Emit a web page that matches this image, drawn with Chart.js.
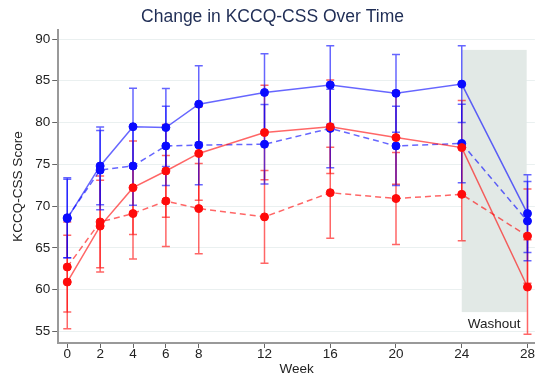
<!DOCTYPE html>
<html>
<head>
<meta charset="utf-8">
<script src="https://cdn.jsdelivr.net/npm/chart.js@4/dist/chart.umd.min.js"></script>
<style>
  html, body { margin: 0; padding: 0; background: #fff; }
  #wrap { width: 535px; height: 376px; }
</style>
</head>
<body>
<div id="wrap"><canvas id="kccq"></canvas></div>
<script>
// weeks and tick labels
const weeks = [0, 2, 4, 6, 8, 12, 16, 20, 24, 28];
const xTicks = [0, 2, 4, 6, 8, 12, 16, 20, 24, 28];
const yTicks = [55, 60, 65, 70, 75, 80, 85, 90];

// mean scores and error half-widths
const blueSolid = [68.5, 74.8, 79.5, 79.4, 82.2, 83.6, 84.5, 83.5, 84.6, 69.1];
const blueSolidErr = [4.7, 4.65, 4.6, 4.67, 4.6, 4.65, 4.7, 4.65, 4.6, 4.65];
const blueDashed = [68.6, 74.3, 74.8, 77.2, 77.3, 77.4, 79.3, 77.2, 77.5, 68.2];
const blueDashedErr = [4.8, 4.75, 4.7, 4.75, 4.75, 4.75, 4.7, 4.75, 4.7, 4.75];
const redSolid = [60.9, 67.6, 72.2, 74.2, 76.3, 78.8, 79.5, 78.2, 77.0, 60.3];
const redSolidErr = [5.6, 5.5, 5.6, 5.55, 5.6, 5.65, 5.6, 5.6, 5.65, 5.65];
const redDashed = [62.7, 68.1, 69.1, 70.6, 69.7, 68.7, 71.6, 70.9, 71.4, 66.4];
const redDashedErr = [5.4, 5.5, 5.45, 5.45, 5.4, 5.55, 5.45, 5.5, 5.55, 5.65];

// washout shaded period
const washoutWeeks = [24, 27.95];
const washoutScores = [57.3, 88.7];

const BLUE = 'rgba(0, 0, 255, 0.6)';
const RED = 'rgba(255, 0, 0, 0.6)';
const FONT = '"Liberation Sans", Arial, sans-serif';

function makeSet(vals, errs, line, point, dashed) {
    return {
        data: weeks.map((w, i) => ({ x: w, y: vals[i] })),
        errs: errs,
        barColor: line,
        borderColor: line,
        backgroundColor: point,
        pointBackgroundColor: point,
        pointBorderColor: point,
        pointRadius: 4,
        pointBorderWidth: 1,
        borderWidth: 1.5,
        borderDash: dashed ? [6, 4] : [],
        tension: 0,
        clip: false
    };
}

// grey washout box plus text, drawn under everything
const washoutPlugin = {
    id: 'washout',
    beforeDatasetsDraw(chart) {
        const { ctx, scales: { x, y } } = chart;
        const x0 = x.getPixelForValue(washoutWeeks[0]);
        const x1 = x.getPixelForValue(washoutWeeks[1]);
        const y0 = y.getPixelForValue(washoutScores[1]);
        const y1 = y.getPixelForValue(washoutScores[0]);
        ctx.save();
        ctx.fillStyle = '#e2e9e6';
        ctx.fillRect(x0, y0, x1 - x0, y1 - y0);
        ctx.fillStyle = '#222';
        ctx.font = '13.5px ' + FONT;
        ctx.textAlign = 'center';
        ctx.textBaseline = 'middle';
        ctx.fillText('Washout', (x0 + x1) / 2, y1 + 12.5);
        ctx.restore();
    }
};

// vertical error bars with caps
const errorBarPlugin = {
    id: 'errbars',
    beforeDatasetsDraw(chart) {
        const { ctx, scales: { x, y } } = chart;
        ctx.save();
        chart.data.datasets.forEach(ds => {
            ctx.strokeStyle = ds.barColor;
            ctx.lineWidth = 1.5;
            ds.data.forEach((p, i) => {
                const px = x.getPixelForValue(p.x);
                const top = y.getPixelForValue(p.y + ds.errs[i]);
                const bot = y.getPixelForValue(p.y - ds.errs[i]);
                ctx.beginPath();
                ctx.moveTo(px, top); ctx.lineTo(px, bot);
                ctx.moveTo(px - 4, top); ctx.lineTo(px + 4, top);
                ctx.moveTo(px - 4, bot); ctx.lineTo(px + 4, bot);
                ctx.stroke();
            });
        });
        ctx.restore();
    }
};

const ctx = document.getElementById('kccq').getContext('2d');
new Chart(ctx, {
    type: 'line',
    data: {
        datasets: [
            makeSet(redDashed, redDashedErr, RED, '#ff0a0a', true),
            makeSet(redSolid, redSolidErr, RED, '#ff0a0a', false),
            makeSet(blueDashed, blueDashedErr, BLUE, '#0a0aff', true),
            makeSet(blueSolid, blueSolidErr, BLUE, '#0a0aff', false)
        ]
    },
    options: {
        responsive: true,
        maintainAspectRatio: false,
        animation: false,
        layout: { autoPadding: false, padding: { left: 10, right: 0, top: 0, bottom: 0 } },
        plugins: {
            legend: { display: false },
            tooltip: { enabled: false },
            title: {
                display: true,
                text: 'Change in KCCQ-CSS Over Time',
                color: '#1f2d55',
                font: { family: FONT, size: 17.5, weight: 'normal', lineHeight: 1.2 },
                padding: { top: 6.5, bottom: 2.5 }
            }
        },
        scales: {
            x: {
                type: 'linear',
                min: -0.55,
                max: 28.45,
                afterBuildTicks: s => { s.ticks = xTicks.map(v => ({ value: v })); },
                grid: { display: true, color: 'transparent', tickColor: '#666', tickLength: 5, drawOnChartArea: false },
                border: { display: true, color: '#999', width: 2 },
                ticks: { color: '#222', font: { family: FONT, size: 13.5, lineHeight: 1 }, padding: 0, maxRotation: 0 },
                title: { display: true, text: 'Week', color: '#222', font: { family: FONT, size: 13.5, lineHeight: 1 }, padding: { top: 1, bottom: 0 } }
            },
            y: {
                min: 53.6,
                max: 91.08,
                afterBuildTicks: s => { s.ticks = yTicks.map(v => ({ value: v })); },
                grid: { color: '#eaf0f0', tickColor: '#666', tickLength: 6 },
                border: { display: true, color: '#999', width: 2 },
                ticks: { color: '#222', font: { family: FONT, size: 13.5 }, padding: 2 },
                title: { display: true, text: 'KCCQ-CSS Score', color: '#222', font: { family: FONT, size: 13.5 }, padding: { top: 0, bottom: 7 } }
            }
        }
    },
    plugins: [washoutPlugin, errorBarPlugin]
});
</script>
</body>
</html>
